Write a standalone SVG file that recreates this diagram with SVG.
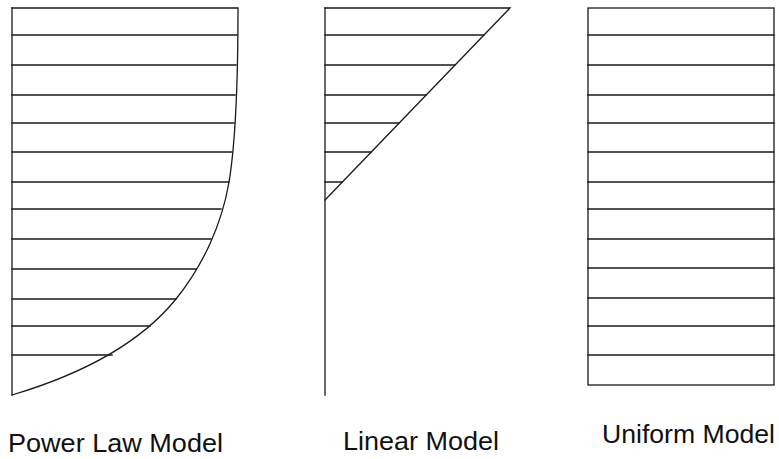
<svg xmlns="http://www.w3.org/2000/svg" width="779" height="459" viewBox="0 0 779 459">
<style>
.ln{stroke:#1a1a1a;stroke-width:1.3;fill:none;stroke-linecap:square}
.lbl{font-family:"Liberation Sans",Arial,sans-serif;font-size:25px;fill:#111}
</style>
<rect width="779" height="459" fill="#fff"/>
<g id="power-law">
<path class="ln" d="M12,8 V395"/>
<path class="ln" d="M12,8 H238 C238,80 236,140 229,182 C222,224 203,265.5 176,299 C136.4,348 72.4,377 12,395"/>
<path class="ln" d="M12,35H237M12,65H236M12,95H235M12,123H234M12,152H232M12,182H229M12,209H221M12,239H211M12,269H196M12,299H176M12,326H150M12,355H112"/>
<text class="lbl" x="8" y="452" textLength="215" lengthAdjust="spacingAndGlyphs">Power Law Model</text>
</g>
<g id="linear">
<path class="ln" d="M325,8 V395"/>
<path class="ln" d="M325,8 H510 L325,200"/>
<path class="ln" d="M325,35H484M325,65H455M325,95H426M325,123H399M325,152H371M325,182H342"/>
<text class="lbl" x="343" y="450" textLength="156" lengthAdjust="spacingAndGlyphs">Linear Model</text>
</g>
<g id="uniform">
<rect class="ln" x="588" y="8" width="186" height="377"/>
<path class="ln" d="M588,35H774M588,65H774M588,95H774M588,123H774M588,152H774M588,182H774M588,209H774M588,239H774M588,268H774M588,298H774M588,326H774M588,355H774"/>
<text class="lbl" x="602" y="443" textLength="173" lengthAdjust="spacingAndGlyphs">Uniform Model</text>
</g>
<g id="connectors"></g>
</svg>
